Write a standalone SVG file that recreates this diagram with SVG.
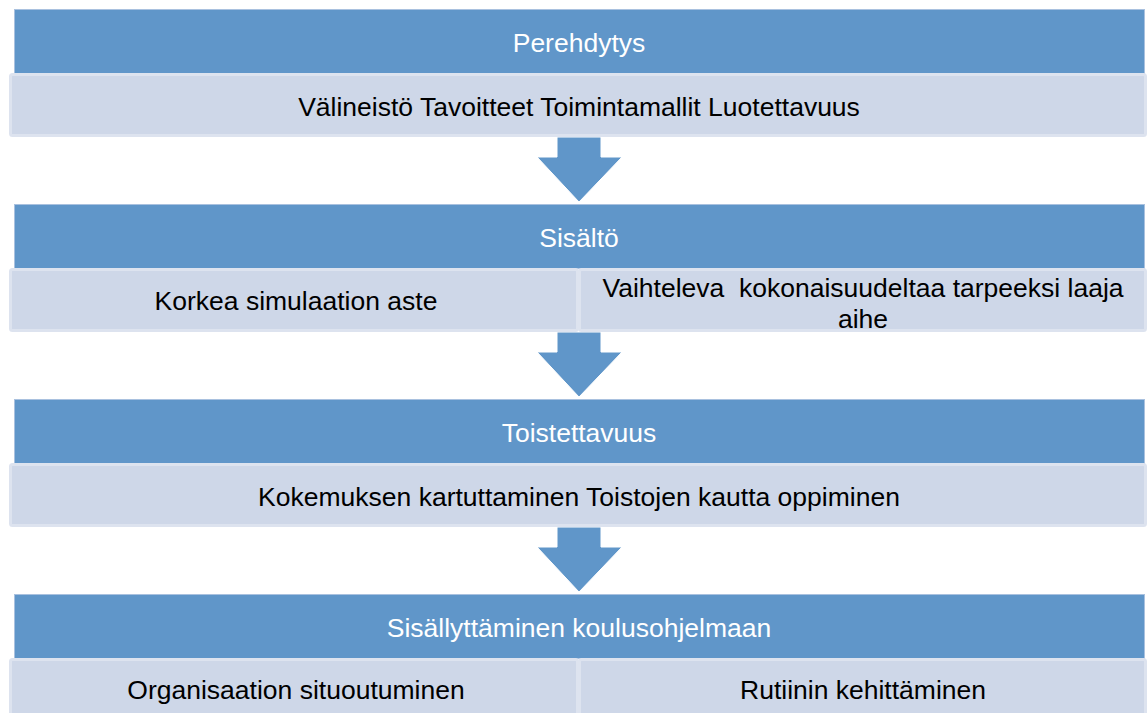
<svg xmlns="http://www.w3.org/2000/svg" width="1148" height="713" viewBox="0 0 1148 713">
<style>
.hd{fill:#6096c9;stroke:#a9c1df;stroke-width:1}
.sb{fill:#ced7e8;stroke:#dde3ef;stroke-width:3}
.ht{font-family:"Liberation Sans",Arial,sans-serif;font-size:26.5px;fill:#ffffff;text-anchor:middle}
.st{font-family:"Liberation Sans",Arial,sans-serif;font-size:26.5px;fill:#000000;text-anchor:middle}
.ar{fill:#6096c9;stroke:#ffffff;stroke-width:1}
</style>
<rect width="1148" height="713" fill="#ffffff"/>
<g id="connectors">
<polygon class="ar" points="557,137 601,137 601,157 622,157 579,202 537,157 557,157"/>
<polygon class="ar" points="557,332 601,332 601,352 622,352 579,397 537,352 557,352"/>
<polygon class="ar" points="557,527 601,527 601,547 622,547 579,592 537,547 557,547"/>
</g>
<g id="node1">
<rect class="hd" x="14.5" y="9.5" width="1130" height="64"/>
<text class="ht" x="579" y="52">Perehdytys</text>
</g>
<g id="node1b">
<rect class="sb" x="10.5" y="74.5" width="1135" height="61" rx="2"/>
<text class="st" x="579" y="116">Välineistö Tavoitteet Toimintamallit Luotettavuus</text>
</g>
<g id="node2">
<rect class="hd" x="14.5" y="204.5" width="1130" height="64"/>
<text class="ht" x="579" y="247">Sisältö</text>
</g>
<g id="node2a">
<rect class="sb" x="10.5" y="269.5" width="567" height="61" rx="2"/>
<text class="st" x="296" y="310">Korkea simulaation aste</text>
</g>
<g id="node2b">
<rect class="sb" x="579.5" y="269.5" width="566" height="61" rx="2"/>
<text class="st" x="863" y="297" xml:space="preserve">Vaihteleva  kokonaisuudeltaa tarpeeksi laaja</text>
<text class="st" x="863" y="328">aihe</text>
</g>
<g id="node3">
<rect class="hd" x="14.5" y="399.5" width="1130" height="64"/>
<text class="ht" x="579" y="442">Toistettavuus</text>
</g>
<g id="node3b">
<rect class="sb" x="10.5" y="464.5" width="1135" height="61" rx="2"/>
<text class="st" x="579" y="506">Kokemuksen kartuttaminen Toistojen kautta oppiminen</text>
</g>
<g id="node4">
<rect class="hd" x="14.5" y="594.5" width="1130" height="64"/>
<text class="ht" x="579" y="637">Sisällyttäminen koulusohjelmaan</text>
</g>
<g id="node4a">
<rect class="sb" x="10.5" y="659.5" width="567" height="61" rx="2"/>
<text class="st" x="296" y="699">Organisaation situoutuminen</text>
</g>
<g id="node4b">
<rect class="sb" x="579.5" y="659.5" width="566" height="61" rx="2"/>
<text class="st" x="863" y="699">Rutiinin kehittäminen</text>
</g>
</svg>
